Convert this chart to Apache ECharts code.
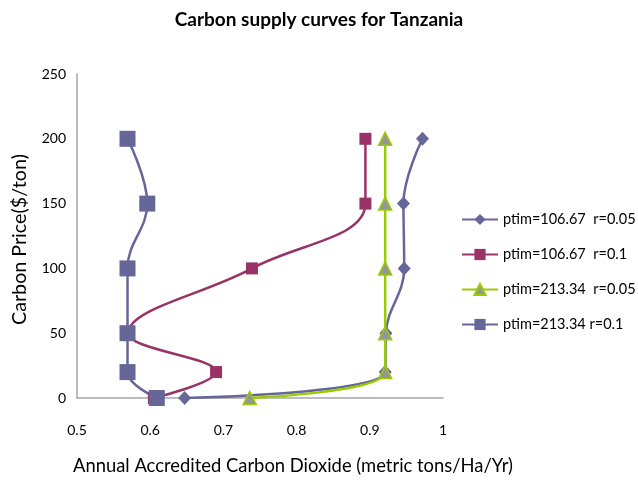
<!DOCTYPE html>
<html>
<head>
<meta charset="utf-8">
<script src="https://cdn.jsdelivr.net/npm/echarts@6/dist/echarts.min.js"></script>
<style>
  html, body { margin: 0; padding: 0; background: #fff; }
  #chart { width: 638px; height: 482px; }
</style>
</head>
<body>
<div id="chart"></div>
<script>
// carbon price levels ($/ton)
let prices = [0, 20, 50, 100, 150, 200];

// annual accredited CO2 for each series, same order as prices
let ptim106r005 = [0.647, 0.921, 0.922, 0.947, 0.946, 0.972];
let ptim106r01 = [0.605, 0.69, 0.57, 0.739, 0.894, 0.894];
let ptim213r005 = [0.736, 0.921, 0.921, 0.921, 0.921, 0.921];
let ptim213r01 = [0.609, 0.569, 0.569, 0.569, 0.596, 0.569];

let names = ['ptim=106.67  r=0.05', 'ptim=106.67  r=0.1', 'ptim=213.34  r=0.05', 'ptim=213.34 r=0.1'];

let font = 'Lato, "Open Sans", sans-serif';

function pairs(xs) {
    let out = [];
    for (let i = 0; i < xs.length; i++) {
        out.push([xs[i], prices[i]]);
    }
    return out;
}

let myChart = echarts.init(document.getElementById('chart'));

let option = {
    backgroundColor: '#fff',
    animation: false,
    title: {
        text: 'Carbon supply curves for Tanzania',
        left: 'center',
        top: 5,
        textStyle: { fontFamily: font, fontSize: 19, fontWeight: 'bold', color: '#000' }
    },
    legend: {
        orient: 'vertical',
        left: 456,
        top: 207,
        itemWidth: 36,
        itemHeight: 14,
        itemGap: 20,
        textStyle: { fontFamily: font, fontSize: 14.5, color: '#000' },
        data: names
    },
    grid: { left: 77, right: 195, top: 74, bottom: 84 },
    xAxis: {
        type: 'value',
        min: 0.5,
        max: 1,
        interval: 0.1,
        axisLine: { lineStyle: { color: '#a6a6a6', width: 1.5 } },
        axisTick: { show: false },
        splitLine: { show: false },
        axisLabel: { margin: 25, fontFamily: font, fontSize: 14, color: '#000' }
    },
    yAxis: {
        type: 'value',
        min: 0,
        max: 250,
        interval: 50,
        axisLine: { show: true, lineStyle: { color: '#a6a6a6', width: 1.5 } },
        axisTick: { show: false },
        splitLine: { show: false },
        axisLabel: { margin: 11, fontFamily: font, fontSize: 14, color: '#000' }
    },
    graphic: [
        {
            type: 'text',
            left: 73,
            top: 457,
            style: {
                text: 'Annual Accredited Carbon Dioxide (metric tons/Ha/Yr)',
                fontFamily: font,
                fontSize: 18.4,
                fill: '#000'
            }
        },
        {
            type: 'text',
            x: 10,
            y: 325,
            rotation: Math.PI / 2,
            style: {
                text: 'Carbon Price($/ton)',
                fontFamily: font,
                fontSize: 19.7,
                fill: '#000'
            }
        }
    ],
    series: [
        {
            name: names[0],
            type: 'line',
            smooth: 0.4,
            data: pairs(ptim106r005),
            symbol: 'diamond',
            symbolSize: [13, 14],
            lineStyle: { color: '#666699', width: 2.5 },
            itemStyle: { color: '#666699' }
        },
        {
            name: names[1],
            type: 'line',
            smooth: 0.4,
            data: pairs(ptim106r01),
            symbol: 'rect',
            symbolSize: 12,
            lineStyle: { color: '#993366', width: 2.5 },
            itemStyle: { color: '#993366' }
        },
        {
            name: names[2],
            type: 'line',
            smooth: 0.4,
            data: pairs(ptim213r005),
            symbol: 'triangle',
            symbolSize: 13,
            lineStyle: { color: '#99cc00', width: 2.5 },
            itemStyle: { color: '#969696', borderColor: '#99cc00', borderWidth: 1.5 }
        },
        {
            name: names[3],
            type: 'line',
            smooth: 0.4,
            data: pairs(ptim213r01),
            symbol: 'rect',
            symbolSize: 16,
            lineStyle: { color: '#666699', width: 2.5 },
            itemStyle: { color: '#666699' }
        }
    ]
};

myChart.setOption(option);
</script>
</body>
</html>
